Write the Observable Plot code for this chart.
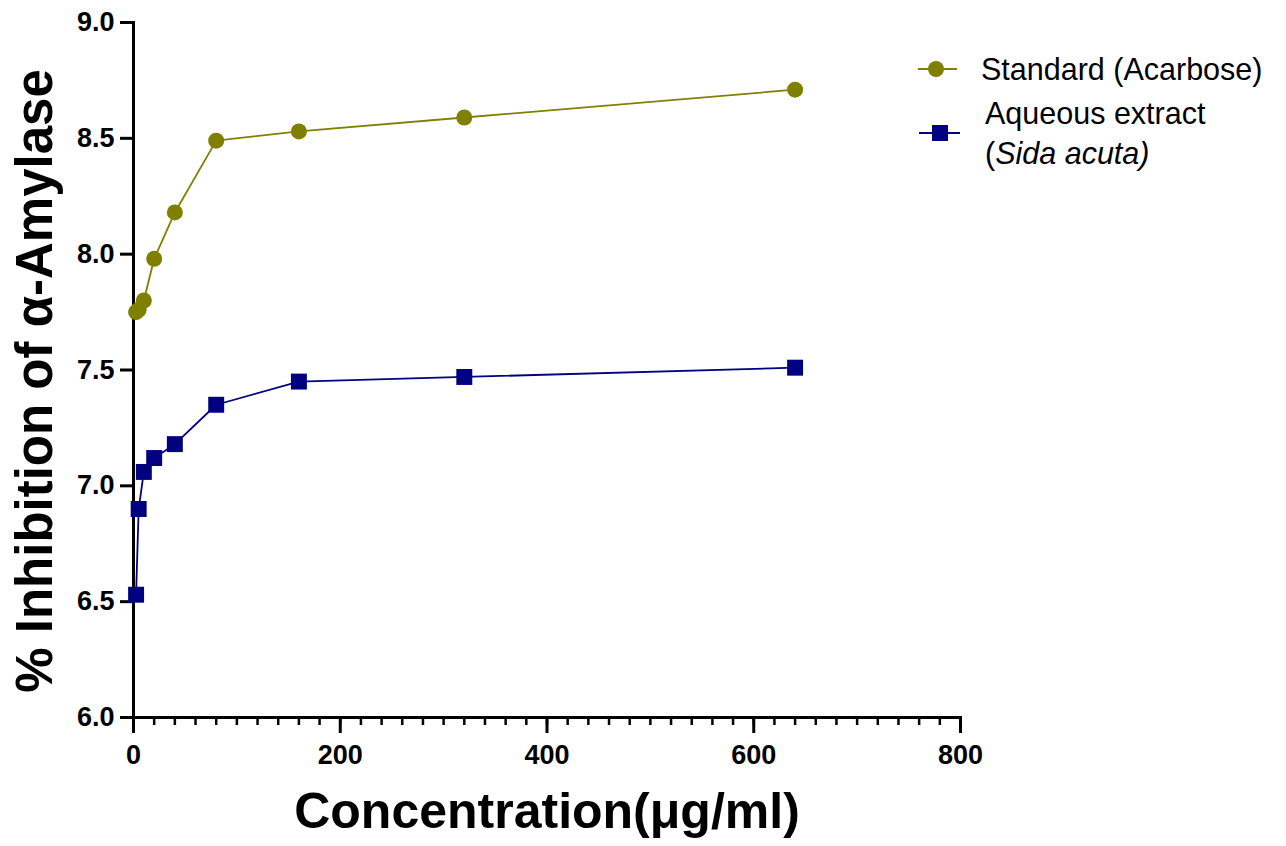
<!DOCTYPE html>
<html><head><meta charset="utf-8">
<script src="https://cdn.jsdelivr.net/npm/d3@7"></script>
<script src="https://cdn.jsdelivr.net/npm/@observablehq/plot@0.6"></script>
<style>
body{margin:0;background:#fff;}
#wrap{position:relative;width:1286px;height:846px;overflow:hidden;}
#chart svg{font-family:"Liberation Sans",Arial,sans-serif;}
g[aria-label="x-axis label"] text{font-size:50px;font-weight:bold;}
g[aria-label="y-axis label"] text{font-size:51px;font-weight:bold;}
#legend{position:absolute;left:0;top:0;}
</style></head><body>
<div id="wrap"><div id="chart"></div><svg id="legend" width="1286" height="200"></svg></div>
<script>
const concentration = [2.5, 5, 10, 20, 40, 80, 160, 320, 640];
const standardValues = [7.75, 7.76, 7.80, 7.98, 8.18, 8.49, 8.53, 8.59, 8.71];
const extractValues = [6.53, 6.90, 7.06, 7.12, 7.18, 7.35, 7.45, 7.47, 7.51];
const seriesNames = ["Standard (Acarbose)", "Aqueous extract"];
const seriesSubName = "Sida acuta";
const seriesColors = ["#808000", "#000080"];
const yTicks = [6.0, 6.5, 7.0, 7.5, 8.0, 8.5, 9.0];
const xTicks = [0, 200, 400, 600, 800];
const xMinorTicks = [0,20,40,60,80,100,120,140,160,180,200,220,240,260,280,300,320,340,360,380,400,420,440,460,480,500,520,540,560,580,600,620,640,660,680,700,720,740,760,780,800];
const xLabel = "Concentration(μg/ml)";
const yLabel = "% Inhibition of α-Amylase";

const standard = concentration.map((c, i) => ({x: c, y: standardValues[i]}));
const extract = concentration.map((c, i) => ({x: c, y: extractValues[i]}));

const chart = Plot.plot({
  width: 1286, height: 846,
  marginLeft: 133, marginRight: 326, marginTop: 22, marginBottom: 129,
  x: {domain: [0, 800]},
  y: {domain: [6, 9]},
  marks: [
    Plot.axisX({ticks: xMinorTicks, tickSize: 8, strokeWidth: 2.5, text: null, label: null}),
    Plot.axisX({ticks: xTicks, tickSize: 16, strokeWidth: 3, tickPadding: 11, fontSize: 27, fontWeight: "bold", fill: "#000",
      label: xLabel, labelAnchor: "center", labelArrow: "none", labelOffset: 110}),
    Plot.axisY({ticks: yTicks, tickSize: 13, strokeWidth: 3, tickPadding: 6, fontSize: 27, fontWeight: "bold", fill: "#000",
      tickFormat: d3.format(".1f"),
      label: yLabel, labelAnchor: "center", labelArrow: "none", labelOffset: 118}),
    Plot.frame({anchor: "left", strokeWidth: 3, stroke: "#000"}),
    Plot.frame({anchor: "bottom", strokeWidth: 3, stroke: "#000"}),
    Plot.line(standard, {x: "x", y: "y", stroke: seriesColors[0], strokeWidth: 1.8}),
    Plot.dot(standard, {x: "x", y: "y", fill: seriesColors[0], r: 8, symbol: "circle"}),
    Plot.line(extract, {x: "x", y: "y", stroke: seriesColors[1], strokeWidth: 1.8}),
    Plot.dot(extract, {x: "x", y: "y", fill: seriesColors[1], r: 9, symbol: "square"})
  ]
});
document.getElementById("chart").append(chart);
// nudge the y-axis title slightly downward, as in the reference
const yl = chart.querySelector('g[aria-label="y-axis label"]');
if (yl) yl.setAttribute("transform", (yl.getAttribute("transform") || "") + " translate(0,11)");

// Legend
const lg = d3.select("#legend").style("font-family", '"Liberation Sans", Arial, sans-serif');
lg.append("line").attr("x1", 918).attr("x2", 957).attr("y1", 69).attr("y2", 69)
  .attr("stroke", seriesColors[0]).attr("stroke-width", 2);
lg.append("circle").attr("cx", 936).attr("cy", 69).attr("r", 8).attr("fill", seriesColors[0]);
lg.append("text").attr("x", 981).attr("y", 80).attr("font-size", 30.5).text(seriesNames[0]);

lg.append("line").attr("x1", 919).attr("x2", 960).attr("y1", 133).attr("y2", 133)
  .attr("stroke", seriesColors[1]).attr("stroke-width", 2);
lg.append("rect").attr("x", 932).attr("y", 125).attr("width", 16).attr("height", 16).attr("fill", seriesColors[1]);
lg.append("text").attr("x", 985).attr("y", 124).attr("font-size", 30.5).text(seriesNames[1]);
const t2 = lg.append("text").attr("x", 985).attr("y", 164).attr("font-size", 30.5);
t2.append("tspan").text("(");
t2.append("tspan").attr("font-style", "italic").text(seriesSubName + ")");
</script>
</body></html>
